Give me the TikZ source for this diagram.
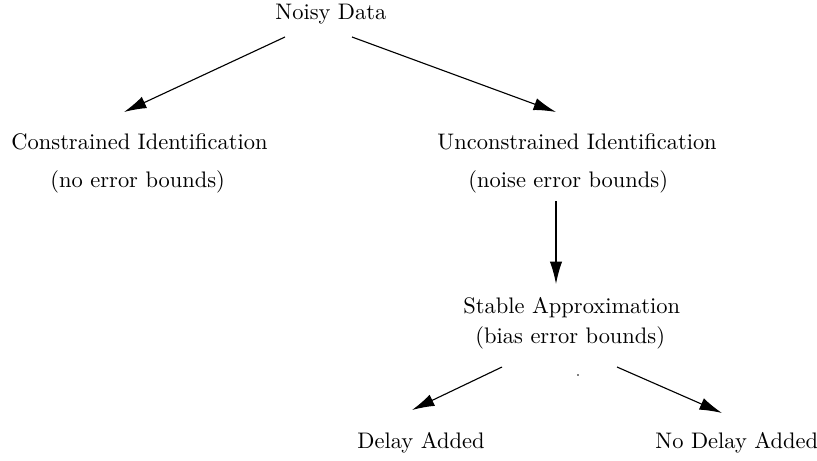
\documentclass[tikz,border=0pt]{standalone}
\usetikzlibrary{arrows.meta}
\begin{document}
\begin{tikzpicture}[x=0.445pt,y=-0.445pt,
  lbl/.style={inner sep=0pt,anchor=west},
  arr/.style={-{Latex[length=10pt,width=5.5pt]},line width=0.5pt}]
\useasboundingbox (0,0) rectangle (817,460);
\node[lbl] (nd) at (275,14) {Noisy Data};
\node[lbl] (ci) at (11,142) {Constrained Identification};
\node[lbl] (cib) at (50,182) {(no error bounds)};
\node[lbl] (ui) at (437,142) {Unconstrained Identification};
\node[lbl] (uib) at (468,182) {(noise error bounds)};
\node[lbl] (sa) at (463,308) {Stable Approximation};
\node[lbl] (sab) at (475,338) {(bias error bounds)};
\node[lbl] (da) at (357,443) {Delay Added};
\node[lbl] (nda) at (655,443) {No Delay Added};
\coordinate (a1s) at (285,37); \coordinate (a1e) at (124,112);
\coordinate (a2s) at (352,37); \coordinate (a2e) at (556,112);
\coordinate (a3s) at (556,201); \coordinate (a3e) at (556,284);
\coordinate (a4s) at (502,367); \coordinate (a4e) at (412,410);
\coordinate (a5s) at (617,367); \coordinate (a5e) at (722,413);
\draw[arr] (a1s) -- (a1e);
\draw[arr] (a2s) -- (a2e);
\draw[arr] (a3s) -- (a3e);
\draw[arr] (a4s) -- (a4e);
\draw[arr] (a5s) -- (a5e);
\fill (578,375) circle (0.4pt);
\end{tikzpicture}
\end{document}
